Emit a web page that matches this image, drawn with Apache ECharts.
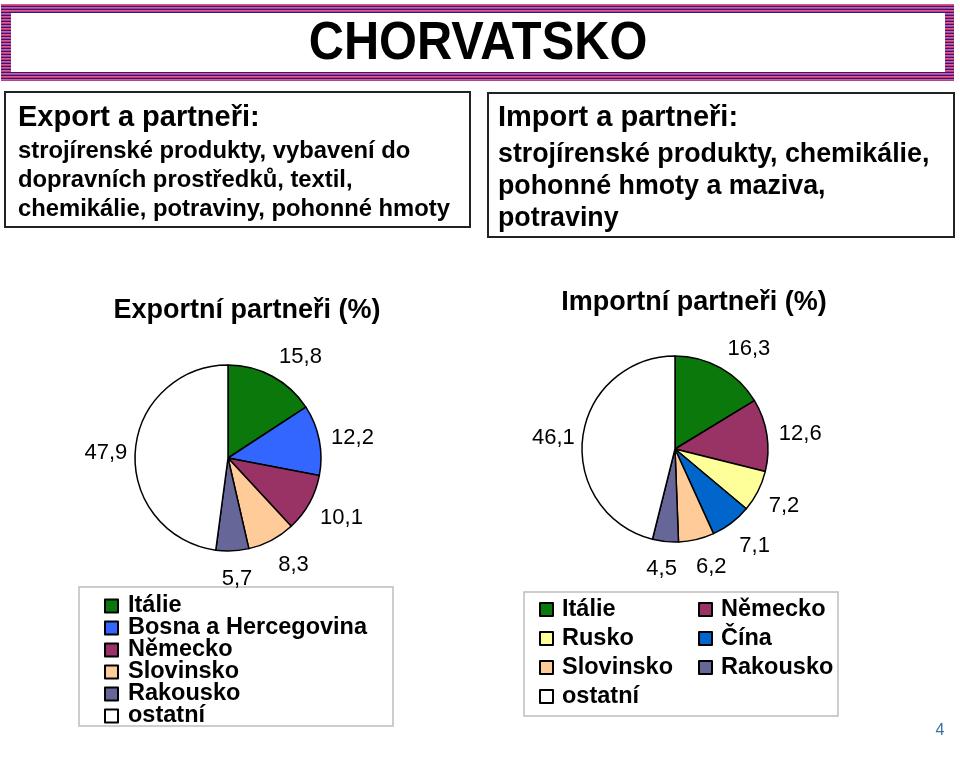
<!DOCTYPE html>
<html>
<head>
<meta charset="utf-8">
<script src="https://cdn.jsdelivr.net/npm/echarts@6/dist/echarts.min.js"></script>
<style>
html,body{margin:0;padding:0;background:#fff;}
#chart{width:960px;height:757px;}
</style>
</head>
<body>
<div id="chart"></div>
<script>
// ---- data ----
const exportNames = ['Itálie', 'Bosna a Hercegovina', 'Německo', 'Slovinsko', 'Rakousko', 'ostatní'];
const exportValues = [15.8, 12.2, 10.1, 8.3, 5.7, 47.9];
const importNames = ['Itálie', 'Německo', 'Rusko', 'Čína', 'Slovinsko', 'Rakousko', 'ostatní'];
const importValues = [16.3, 12.6, 7.2, 7.1, 6.2, 4.5, 46.1];
const importLegendCol1 = ['Itálie', 'Rusko', 'Slovinsko', 'ostatní'];
const importLegendCol2 = ['Německo', 'Čína', 'Rakousko'];

const mainTitle = 'CHORVATSKO';
const exportBoxTitle = 'Export a partneři:';
const exportBoxText = ['strojírenské produkty, vybavení do', 'dopravních prostředků, textil,', 'chemikálie, potraviny, pohonné hmoty'];
const importBoxTitle = 'Import a partneři:';
const importBoxText = ['strojírenské produkty, chemikálie,', 'pohonné hmoty a maziva,', 'potraviny'];
const exportPieTitle = 'Exportní partneři (%)';
const importPieTitle = 'Importní partneři (%)';
const pageNumber = '4';

// ---- styles ----
const colorMap = {
  'Itálie': '#0a780a',
  'Bosna a Hercegovina': '#3366ff',
  'Německo': '#993366',
  'Slovinsko': '#ffcc99',
  'Rakousko': '#666699',
  'ostatní': '#ffffff',
  'Rusko': '#ffff99',
  'Čína': '#0066cc'
};
const FONT = '"Liberation Sans", Arial, Helvetica, sans-serif';

const chart = echarts.init(document.getElementById('chart'), null, {renderer: 'canvas'});

// striped pattern for banner
const pc = document.createElement('canvas');
pc.width = 4; pc.height = 3;
const pctx = pc.getContext('2d');
pctx.fillStyle = '#2a1890'; pctx.fillRect(0, 0, 4, 1);
pctx.fillStyle = '#e25a82'; pctx.fillRect(0, 1, 4, 1);
pctx.fillStyle = '#b8407e'; pctx.fillRect(0, 2, 4, 1);

function pieData(names, values) {
  return names.map((n, i) => ({name: n, value: values[i], itemStyle: {color: colorMap[n]}}));
}

function clamp(v) { return Math.max(-1, Math.min(1, v)); }

// place each label just outside the slice, along its mid-angle (PowerPoint-like)
function makeLabelLayout(values, center, radius, gap) {
  const total = values.reduce((a, b) => a + b, 0);
  return function (p) {
    let cum = 0;
    for (let i = 0; i < p.dataIndex; i++) cum += values[i];
    const mid = (cum + values[p.dataIndex] / 2) / total * Math.PI * 2;
    const ux = Math.sin(mid), uy = -Math.cos(mid);
    const w = p.labelRect.width;
    const d = radius + gap;
    return {
      x: center[0] + ux * d + clamp(3 * ux) * w / 2 + 2,
      y: center[1] + uy * d + uy * 15 + 3,
      align: 'center', verticalAlign: 'middle'
    };
  };
}

const exportCenter = [228, 458], importCenter = [675, 449], R = 93;

function pieSeries(names, values, center) {
  return {
    type: 'pie',
    center: center,
    radius: R,
    startAngle: 90,
    clockwise: true,
    avoidLabelOverlap: false,
    minShowLabelAngle: 0,
    animation: false,
    silent: true,
    itemStyle: {borderColor: '#000', borderWidth: 1.5},
    label: {
      show: true,
      position: 'outside',
      formatter: p => String(p.value).replace('.', ','),
      fontFamily: FONT,
      fontSize: 22,
      lineHeight: 20,
      color: '#000'
    },
    labelLine: {show: false, length: 10, length2: 0},
    labelLayout: makeLabelLayout(values, center, R, 10),
    emphasis: {disabled: true},
    data: pieData(names, values)
  };
}

const legendText = (pad, lh) => ({
  fontFamily: FONT, fontSize: 23.5, fontWeight: 'bold', color: '#000',
  lineHeight: lh, padding: [0, 0, 0, pad]
});

const option = {
  backgroundColor: '#ffffff',
  animation: false,
  legend: [
    {
      orient: 'vertical', left: 104, top: 594, padding: 0, itemGap: -2,
      itemWidth: 13, itemHeight: 13, icon: 'rect', selectedMode: false,
      textStyle: legendText(5, 22), data: exportNames
    },
    {
      orient: 'vertical', left: 539, top: 595, padding: 0, itemGap: 0,
      itemWidth: 13, itemHeight: 13, icon: 'rect', selectedMode: false,
      textStyle: legendText(4, 29), data: importLegendCol1
    },
    {
      orient: 'vertical', left: 698, top: 595, padding: 0, itemGap: 0,
      itemWidth: 13, itemHeight: 13, icon: 'rect', selectedMode: false,
      textStyle: legendText(4, 29), data: importLegendCol2
    }
  ],
  graphic: [
    // banner
    {type: 'rect', shape: {x: 1, y: 4, width: 953, height: 77}, style: {fill: {image: pc, repeat: 'repeat'}}, silent: true, z: 1},
    {type: 'rect', shape: {x: 11, y: 13, width: 934, height: 59}, style: {fill: '#ffffff'}, silent: true, z: 2},
    {type: 'text', x: 478, y: 44, scaleX: 0.92, z: 3, silent: true,
      style: {text: mainTitle, font: 'bold 53px ' + FONT, fill: '#000', align: 'center', verticalAlign: 'middle'}},
    // export box
    {type: 'rect', shape: {x: 5, y: 92, width: 465, height: 135}, style: {fill: '#fff', stroke: '#222', lineWidth: 2}, silent: true, z: 1},
    {type: 'text', x: 18, y: 118, z: 3, silent: true,
      style: {text: exportBoxTitle, font: 'bold 29px ' + FONT, fill: '#000', align: 'left', verticalAlign: 'middle'}},
    {type: 'text', x: 18, y: 137, z: 3, silent: true,
      style: {text: exportBoxText.join('\n'), font: 'bold 23.8px ' + FONT, lineHeight: 29, fill: '#000', align: 'left', verticalAlign: 'top'}},
    // import box
    {type: 'rect', shape: {x: 488, y: 93, width: 466, height: 144}, style: {fill: '#fff', stroke: '#222', lineWidth: 2}, silent: true, z: 1},
    {type: 'text', x: 498, y: 118, z: 3, silent: true,
      style: {text: importBoxTitle, font: 'bold 29px ' + FONT, fill: '#000', align: 'left', verticalAlign: 'middle'}},
    {type: 'text', x: 498, y: 139, z: 3, silent: true,
      style: {text: importBoxText.join('\n'), font: 'bold 26.8px ' + FONT, lineHeight: 32, fill: '#000', align: 'left', verticalAlign: 'top'}},
    // pie titles
    {type: 'text', x: 247, y: 311, z: 3, silent: true,
      style: {text: exportPieTitle, font: 'bold 27px ' + FONT, fill: '#000', align: 'center', verticalAlign: 'middle'}},
    {type: 'text', x: 694, y: 303, z: 3, silent: true,
      style: {text: importPieTitle, font: 'bold 27px ' + FONT, fill: '#000', align: 'center', verticalAlign: 'middle'}},
    // legend boxes
    {type: 'rect', shape: {x: 79, y: 587, width: 314, height: 139}, style: {fill: 'none', stroke: '#bdbdbd', lineWidth: 1.5}, silent: true, z: 0},
    {type: 'rect', shape: {x: 524, y: 592, width: 314, height: 124}, style: {fill: 'none', stroke: '#bdbdbd', lineWidth: 1.5}, silent: true, z: 0},
    // page number
    {type: 'text', x: 940, y: 731, z: 3, silent: true,
      style: {text: pageNumber, font: '16px ' + FONT, fill: '#3b6fa6', align: 'center', verticalAlign: 'middle'}}
  ],
  series: [
    pieSeries(exportNames, exportValues, exportCenter),
    pieSeries(importNames, importValues, importCenter)
  ]
};

chart.setOption(option);
</script>
</body>
</html>
